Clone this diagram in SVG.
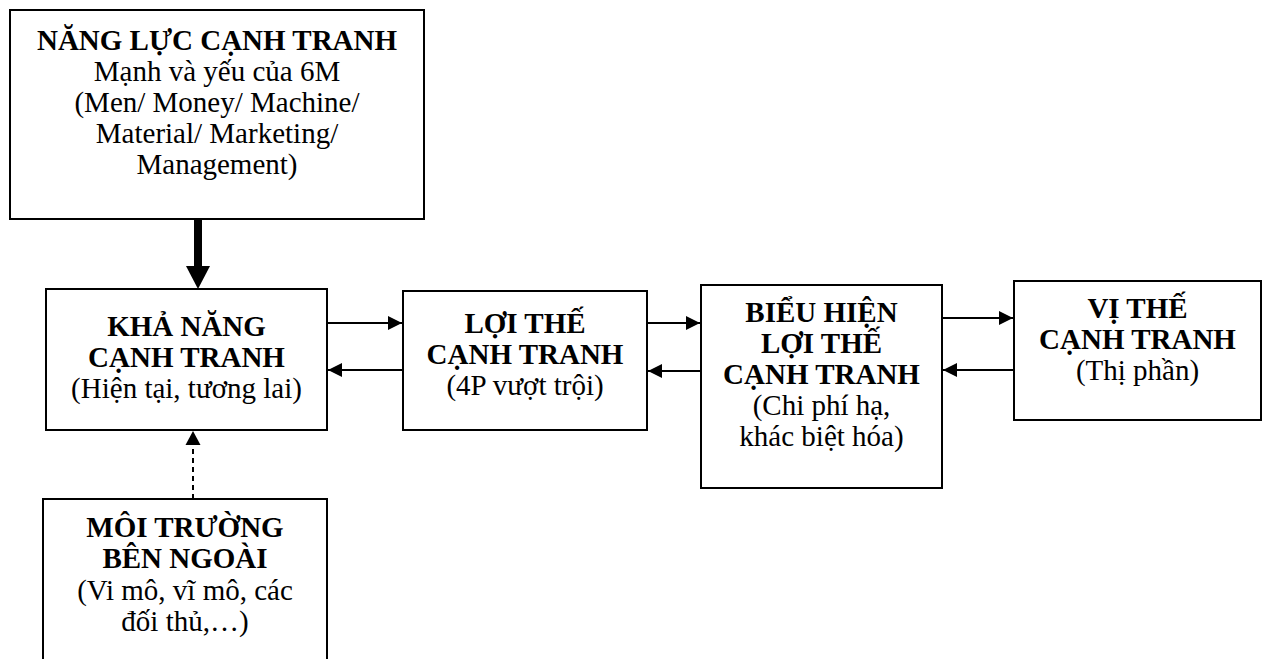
<svg xmlns="http://www.w3.org/2000/svg" width="1264" height="659" viewBox="0 0 1264 659">
<style>
.box{fill:#fff;stroke:#000;stroke-width:2}
text{font-family:"Liberation Serif","Times New Roman",serif;font-size:29px;fill:#000;text-anchor:middle}
.b{font-weight:bold}
.ln{stroke:#000;stroke-width:2;fill:none}
.dash{stroke:#000;stroke-width:2;fill:none;stroke-dasharray:5 4}
</style>
<defs>
<marker id="ah" markerUnits="userSpaceOnUse" markerWidth="15" markerHeight="15" refX="14" refY="7" orient="auto">
<path d="M0,0 L14,7 L0,14 Z" fill="#000"/>
</marker>
</defs>
<rect width="1264" height="659" fill="#fff"/>
<g id="nang-luc">
<rect class="box" x="10" y="10" width="414" height="209"/>
<text class="b" x="217" y="50">NĂNG LỰC CẠNH TRANH</text>
<text x="217" y="81">Mạnh và yếu của 6M</text>
<text x="217" y="112">(Men/ Money/ Machine/</text>
<text x="217" y="143">Material/ Marketing/</text>
<text x="217" y="174">Management)</text>
</g>
<g id="kha-nang">
<rect class="box" x="46" y="289" width="281" height="141"/>
<text class="b" x="186.5" y="336">KHẢ NĂNG</text>
<text class="b" x="186.5" y="367">CẠNH TRANH</text>
<text x="186.5" y="398">(Hiện tại, tương lai)</text>
</g>
<g id="loi-the">
<rect class="box" x="403" y="291" width="244" height="139"/>
<text class="b" x="525" y="333">LỢI THẾ</text>
<text class="b" x="525" y="364">CẠNH TRANH</text>
<text x="525" y="395">(4P vượt trội)</text>
</g>
<g id="bieu-hien">
<rect class="box" x="701" y="285" width="241" height="203"/>
<text class="b" x="821.5" y="322">BIỂU HIỆN</text>
<text class="b" x="821.5" y="353">LỢI THẾ</text>
<text class="b" x="821.5" y="384">CẠNH TRANH</text>
<text x="821.5" y="415">(Chi phí hạ,</text>
<text x="821.5" y="446">khác biệt hóa)</text>
</g>
<g id="vi-the">
<rect class="box" x="1014" y="281" width="247" height="139"/>
<text class="b" x="1137.5" y="318">VỊ THẾ</text>
<text class="b" x="1137.5" y="349">CẠNH TRANH</text>
<text x="1137.5" y="380">(Thị phần)</text>
</g>
<g id="moi-truong">
<path class="box" d="M43,660 L43,499 L327,499 L327,660"/>
<text class="b" x="185" y="537">MÔI TRƯỜNG</text>
<text class="b" x="185" y="568">BÊN NGOÀI</text>
<text x="185" y="600">(Vi mô, vĩ mô, các</text>
<text x="185" y="631">đối thủ,…)</text>
</g>
<g id="connectors">
<rect x="194" y="219" width="8" height="48" fill="#000"/>
<path d="M186,266 L210,266 L198,289 Z" fill="#000"/>
<line class="dash" x1="193" y1="499" x2="193" y2="444"/>
<path d="M185.5,445 L200.5,445 L193,431 Z" fill="#000"/>
<line class="ln" x1="328" y1="323" x2="402" y2="323" marker-end="url(#ah)"/>
<line class="ln" x1="402" y1="370" x2="328" y2="370" marker-end="url(#ah)"/>
<line class="ln" x1="648" y1="323" x2="700" y2="323" marker-end="url(#ah)"/>
<line class="ln" x1="700" y1="371" x2="648" y2="371" marker-end="url(#ah)"/>
<line class="ln" x1="943" y1="318" x2="1013" y2="318" marker-end="url(#ah)"/>
<line class="ln" x1="1013" y1="370" x2="943" y2="370" marker-end="url(#ah)"/>
</g>
</svg>
